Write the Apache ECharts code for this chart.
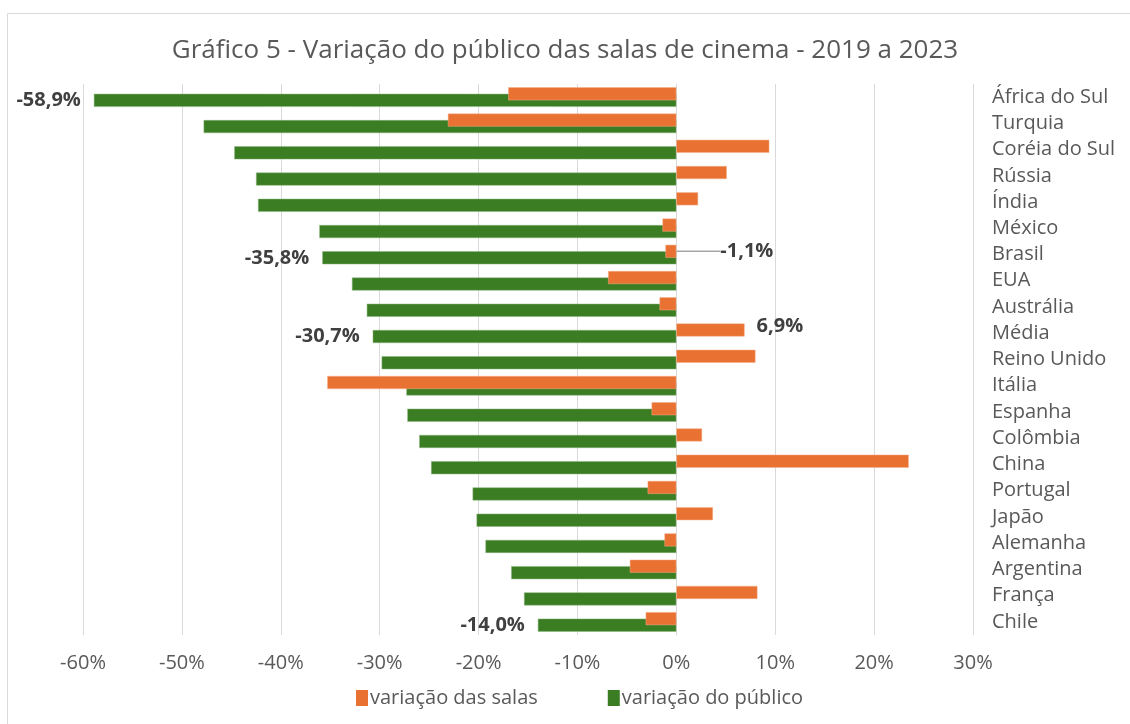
<!DOCTYPE html>
<html>
<head>
<meta charset="utf-8">
<script src="https://cdn.jsdelivr.net/npm/echarts@6/dist/echarts.min.js"></script>
<style>
  html, body { margin: 0; padding: 0; background: #fff; }
  #chart { width: 1130px; height: 724px; }
</style>
</head>
<body>
<div id="chart"></div>
<script>
const countries = ['África do Sul', 'Turquia', 'Coréia do Sul', 'Rússia', 'Índia', 'México', 'Brasil', 'EUA',
  'Austrália', 'Média', 'Reino Unido', 'Itália', 'Espanha', 'Colômbia', 'China', 'Portugal', 'Japão',
  'Alemanha', 'Argentina', 'França', 'Chile']

// variação das salas (%)
const salas = [-17.0, -23.1, 9.4, 5.1, 2.2, -1.4, -1.1, -6.9, -1.7, 6.9, 8.0, -35.3, -2.5, 2.6, 23.5,
  -2.9, 3.7, -1.2, -4.7, 8.2, -3.1]
// variação do público (%)
const publico = [-58.9, -47.8, -44.7, -42.5, -42.3, -36.1, -35.8, -32.8, -31.3, -30.7, -29.8, -27.3,
  -27.2, -26.0, -24.8, -20.6, -20.2, -19.3, -16.7, -15.4, -14.0]

// which bars get a data label
const salasLabeled = ['Brasil', 'Média']
const publicoLabeled = ['África do Sul', 'Brasil', 'Média', 'Chile']

const FONT = '"Open Sans", "Noto Sans", sans-serif'
const fmt = (v) => v.toFixed(1).replace('.', ',') + '%'

const chart = echarts.init(document.getElementById('chart'))

function withLabels(values, labeled) {
  return values.map((v, i) => {
    const item = { value: v, label: { show: labeled.includes(countries[i]) } }
    // leader line only for the label that Excel moved away from its bar
    if (countries[i] === 'Brasil' && values === salas) item.labelLine = { show: true }
    return item
  })
}

chart.setOption({
  textStyle: { fontFamily: FONT },
  title: {
    text: 'Gráfico 5 - Variação do público das salas de cinema - 2019 a 2023',
    left: 'center',
    top: 33,
    textStyle: { fontFamily: FONT, fontSize: 26, fontWeight: 'normal', color: '#595959' },
  },
  graphic: [{
    type: 'rect',
    shape: { x: 7.5, y: 13.5, width: 1130, height: 720 },
    style: { fill: 'none', stroke: '#D9D9D9', lineWidth: 1 },
    silent: true,
  }],
  legend: {
    bottom: 11,
    left: 351,
    itemWidth: 12,
    itemHeight: 16,
    itemGap: 70,
    itemStyle: { borderWidth: 0 },
    icon: 'rect',
    textStyle: { fontFamily: FONT, fontSize: 20, color: '#595959', padding: [0, 0, 0, -3] },
    data: ['variação das salas', 'variação do público'],
  },
  grid: { left: 83, right: 157, top: 84, bottom: 89 },
  xAxis: {
    type: 'value',
    min: -60,
    max: 30,
    interval: 10,
    axisLine: { show: false },
    axisTick: { show: false },
    splitLine: { lineStyle: { color: '#D9D9D9', width: 1 } },
    axisLabel: { formatter: '{value}%', fontSize: 20, color: '#595959', margin: 18, fontFamily: FONT },
  },
  yAxis: {
    type: 'category',
    data: countries,
    inverse: true,
    position: 'right',
    axisLine: { show: true, lineStyle: { color: '#D9D9D9' } },
    axisTick: { show: false },
    axisLabel: { fontSize: 20, color: '#595959', margin: 19, fontFamily: FONT },
  },
  series: [
    {
      name: 'variação das salas',
      type: 'bar',
      data: withLabels(salas, salasLabeled),
      barWidth: 13,
      barGap: '-50%',
      z: 3,
      itemStyle: { color: '#E97132', borderColor: '#F4B08C', borderWidth: 0.5 },
      label: {
        position: 'right',
        distance: 12,
        formatter: (p) => fmt(p.value),
        fontSize: 20,
        fontWeight: 'bold',
        color: '#404040',
        fontFamily: FONT,
      },
      labelLine: { show: false, lineStyle: { color: '#A6A6A6', width: 1.5 } },
      labelLayout: (p) => (p.dataIndex === 6 ? { dx: 32 } : { dy: -4 }),
    },
    {
      name: 'variação do público',
      type: 'bar',
      data: withLabels(publico, publicoLabeled),
      barWidth: 13,
      barGap: '-50%',
      z: 2,
      itemStyle: { color: '#3A7D22', borderColor: '#8DB57F', borderWidth: 0.5 },
      label: {
        position: 'left',
        distance: 13,
        formatter: (p) => fmt(p.value),
        fontSize: 20,
        fontWeight: 'bold',
        color: '#404040',
        fontFamily: FONT,
      },
    },
  ],
})

window.addEventListener('resize', () => chart.resize())
</script>
</body>
</html>
